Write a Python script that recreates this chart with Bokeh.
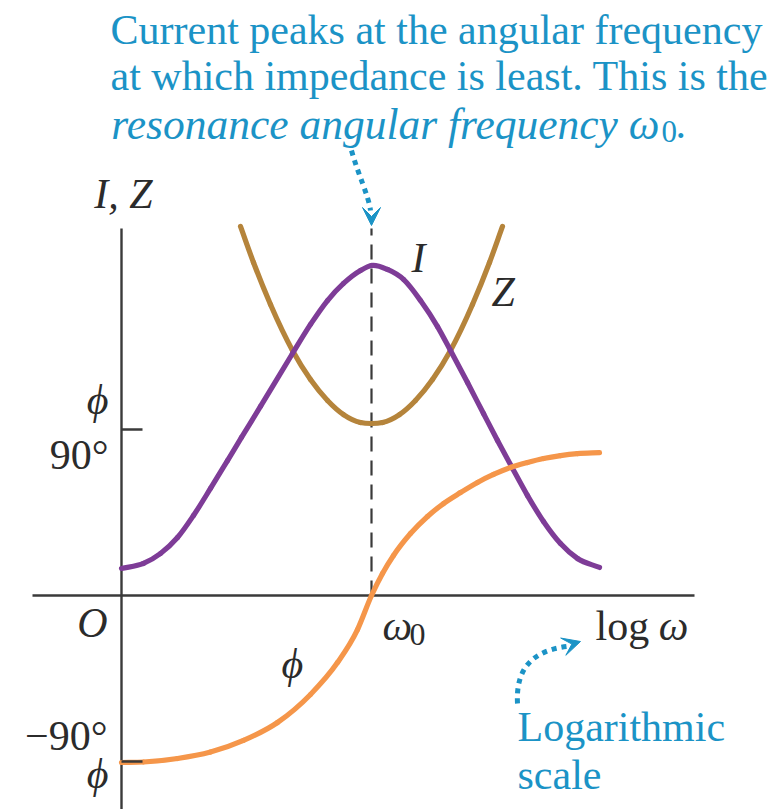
from bokeh.plotting import figure
from bokeh.models import Range1d, Arrow, VeeHead
from bokeh.core.properties import value
from bokeh.embed import file_html
from bokeh.resources import INLINE

# ---------------- data ----------------
# x: log(omega), with log(omega0) = 1 ; y: I, Z (arbitrary) and phi (90 deg = 1)
I_x = [0.000, 0.088, 0.156, 0.224, 0.288, 0.356, 0.424, 0.480, 0.556, 0.684, 0.756,
       0.824, 0.888, 0.956, 1.000, 1.064, 1.128, 1.196, 1.264, 1.316, 1.384, 1.448,
       1.504, 1.560, 1.624, 1.688, 1.756, 1.824, 1.912]
I_y = [0.163, 0.193, 0.253, 0.349, 0.482, 0.645, 0.813, 0.952, 1.139, 1.458, 1.633,
       1.777, 1.880, 1.958, 1.988, 1.964, 1.904, 1.777, 1.620, 1.476, 1.283, 1.096,
       0.934, 0.777, 0.602, 0.446, 0.313, 0.223, 0.169]

Z_x = [0.476, 0.528, 0.596, 0.684, 0.756, 0.824, 0.888, 0.956, 1.000, 1.044, 1.112,
       1.176, 1.244, 1.316, 1.404, 1.472, 1.524]
Z_y = [2.223, 2.006, 1.753, 1.476, 1.301, 1.175, 1.090, 1.042, 1.036, 1.042, 1.090,
       1.175, 1.301, 1.476, 1.753, 2.006, 2.223]

phi_x = [0.000, 0.088, 0.224, 0.356, 0.488, 0.624, 0.756, 0.864, 0.944, 1.000, 1.044,
         1.088, 1.156, 1.224, 1.288, 1.356, 1.424, 1.488, 1.556, 1.624, 1.688, 1.756,
         1.824, 1.912]
phi_y = [-1.006, -1.003, -0.982, -0.943, -0.873, -0.765, -0.596, -0.404, -0.205, 0.000,
         0.133, 0.241, 0.373, 0.476, 0.554, 0.620, 0.681, 0.729, 0.771, 0.801, 0.825,
         0.843, 0.855, 0.861]

omega0 = [1.0]
phi_ticks = [1.0, -1.0]
phi_tick_labels = ["90°", "−90°"]

# ---------------- colours / fonts ----------------
PURPLE = "#7e3c97"
BROWN = "#b5843b"
ORANGE = "#f5964a"
BLUE = "#1b93c6"
AXIS = "#3a3a3a"
TXT = "#2b2b2b"
SERIF = "Liberation Serif"

W, H = 778, 809
M = 0            # observed offset of the figure on the page
TEXT_DY = -15    # text baseline correction (px)

# pixel -> data helpers (picture pixel coordinates)
SX, SY = 250.0, 166.0
OX, OY = 121.0, 595.0


def fx(px):
    return (px - OX) / SX


def fy(py):
    return (OY - py) / SY


p = figure(width=W, height=H, output_backend="svg", toolbar_location=None,
           x_range=Range1d(fx(M), fx(M + W)), y_range=Range1d(fy(M + H), fy(M)),
           x_axis_location=None, y_axis_location=None, min_border=0,
           outline_line_color=None, background_fill_color="white",
           border_fill_color="white")
p.grid.grid_line_color = None


def smooth(xs, ys, color, lw=5.2):
    """Smooth curve through the read points (cubic Hermite drawn as Beziers)."""
    n = len(xs)
    h = [xs[i + 1] - xs[i] for i in range(n - 1)]
    d = [(ys[i + 1] - ys[i]) / h[i] for i in range(n - 1)]
    m = [d[0]]
    for i in range(1, n - 1):
        m.append((d[i - 1] * h[i] + d[i] * h[i - 1]) / (h[i - 1] + h[i]))
    m.append(d[-1])
    x0, y0, x1, y1, cx0, cy0, cx1, cy1 = [], [], [], [], [], [], [], []
    for i in range(n - 1):
        x0.append(xs[i]); y0.append(ys[i])
        x1.append(xs[i + 1]); y1.append(ys[i + 1])
        cx0.append(xs[i] + h[i] / 3.0); cy0.append(ys[i] + m[i] * h[i] / 3.0)
        cx1.append(xs[i + 1] - h[i] / 3.0); cy1.append(ys[i + 1] - m[i + 1] * h[i] / 3.0)
    p.bezier(x0=x0, y0=y0, x1=x1, y1=y1, cx0=cx0, cy0=cy0, cx1=cx1, cy1=cy1,
             line_color=color, line_width=lw, line_cap="round")


# axes
p.segment(x0=[fx(32)], y0=[0], x1=[fx(694)], y1=[0], line_color=AXIS, line_width=2.4)
p.segment(x0=[0], y0=[fy(812)], x1=[0], y1=[fy(228)], line_color=AXIS, line_width=2.4)

# dashed resonance line
p.segment(x0=omega0, y0=[0], x1=omega0, y1=[fy(228)], line_color=AXIS,
          line_width=2.2, line_dash="15 9")

# curves
smooth(Z_x, Z_y, BROWN)
smooth(I_x, I_y, PURPLE)
smooth(phi_x, phi_y, ORANGE)

# phi ticks (+90 / -90)
p.segment(x0=[0] * len(phi_ticks), y0=phi_ticks, x1=[fx(142)] * len(phi_ticks),
          y1=phi_ticks, line_color=AXIS, line_width=2.4)


def txt(x, y, s, size=42, italic=False, color=TXT, align="left"):
    p.text(x=[fx(x)], y=[fy(y + TEXT_DY)], text=[s], text_font=value(SERIF),
           text_font_size=f"{size}px", text_font_style="italic" if italic else "normal",
           text_color=color, text_align=align, text_baseline="alphabetic")


# title / annotation
txt(110, 44, "Current peaks at the angular frequency", 42, color=BLUE)
txt(110, 90, "at which impedance is least. This is the", 42, color=BLUE)
txt(659, 138, "resonance angular frequency ω", 43.5, italic=True, color=BLUE, align="right")
txt(661, 146, "0", 31, color=BLUE)
txt(675, 138, ".", 42, color=BLUE)

# axis labels
txt(152, 208, "I, Z", 42, italic=True, align="right")
txt(108, 414, "ϕ", 42, italic=True, align="right")
txt(108, 469, phi_tick_labels[0], 42, align="right")
txt(107, 637, "O", 42, italic=True, align="right")
txt(107, 750, phi_tick_labels[1], 42, align="right")
txt(108, 788, "ϕ", 42, italic=True, align="right")

txt(382, 640, "ω", 42, italic=True)
txt(409, 649, "0", 32)
txt(595, 640, "log", 42)
txt(688, 640, "ω", 42, italic=True, align="right")

# curve labels
txt(411, 272, "I", 42, italic=True)
txt(491, 306, "Z", 42, italic=True)
txt(281, 678, "ϕ", 42, italic=True)

# "Logarithmic scale"
txt(517, 741, "Logarithmic", 42, color=BLUE)
txt(517, 789, "scale", 42, color=BLUE)

# dotted arrows
p.bezier(x0=[fx(351)], y0=[fy(150)], x1=[fx(370)], y1=[fy(210)],
         cx0=[fx(358)], cy0=[fy(175)], cx1=[fx(368)], cy1=[fy(195)],
         line_color=BLUE, line_width=5, line_dash="5 5")
p.add_layout(Arrow(end=VeeHead(size=18, fill_color=BLUE, line_color=BLUE),
                   x_start=fx(371), y_start=fy(205), x_end=fx(371), y_end=fy(225),
                   line_alpha=0))

p.bezier(x0=[fx(517)], y0=[fy(703)], x1=[fx(566)], y1=[fy(646)],
         cx0=[fx(515)], cy0=[fy(665)], cx1=[fx(535)], cy1=[fy(650)],
         line_color=BLUE, line_width=5, line_dash="5 5")
p.add_layout(Arrow(end=VeeHead(size=18, fill_color=BLUE, line_color=BLUE),
                   x_start=fx(560), y_start=fy(647), x_end=fx(580), y_end=fy(641),
                   line_alpha=0))

open("out.html", "w").write(file_html(p, INLINE))
